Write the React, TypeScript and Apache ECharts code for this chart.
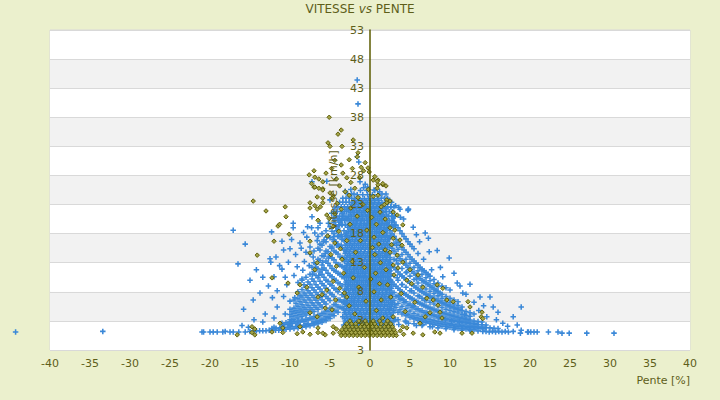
import React, { useEffect, useRef } from "react";
import * as echarts from "echarts";

// ---------- DATA (x = Pente [%], y = Vitesse [km/h]) ----------
const xTicks = { min: -40, max: 40, step: 5 };
const yTicks = { min: -2, max: 53, step: 5 };

// isolated blue points: flat list of x, y pairs
const blueSparse = [
  -44.3, 1.1, -33.4, 1.2, -21.0, 1.1, -20.8, 1.1, -20.0, 1.1, -19.6, 1.1, -19.1, 1.1, -18.4, 1.1, -18.1, 1.2,
  -17.5, 1.1, -17.1, 1.1, -16.4, 1.1, -15.6, 1.1, -15.0, 1.2, -14.6, 1.2, -14.2, 1.3, -13.8, 1.3, -13.4, 1.3,
  -13.0, 1.3, -12.6, 1.4, -12.2, 1.4, -11.8, 1.4, -11.4, 1.4, -11.0, 1.4,
  14.1, 1.2, 14.5, 1.2, 14.9, 1.1, 15.3, 1.2, 15.7, 1.1, 16.1, 1.2, 16.5, 1.1, 16.9, 1.2, 17.3, 1.1, 17.9, 1.2,
  18.8, 0.9, 18.9, 1.4, 19.7, 1.1, 20.1, 1.1, 20.5, 1.1, 20.9, 1.1, 22.3, 1.1, 23.5, 1.1, 24.0, 0.9, 24.9, 0.9,
  27.1, 0.9, 30.5, 0.9,
  -1.6, 44.4, -1.5, 40.3, -1.6, 31.2, -1.4, 30.3, -1.25, 26.9, -0.6, 26.5, -0.3, 26.0, 0.5, 25.5, -7.25, 26.9,
  -5.4, 27.0, -5.0, 23.8, -7.25, 20.9, 3.75, 22.2, 4.75, 22.0, 2.9, 20.7, 4.8, 22.2,
  -2.4, 25.6, -0.8, 25.9, 1.2, 25.2, -3.1, 25.3,
  -17.1, 18.6, -15.6, 16.2, -12.3, 18.3, -11.0, 16.7, -9.6, 19.8, -9.6, 19.0, -12.5, 13.7, -12.4, 13.1,
  -11.75, 14.0, -10.2, 13.1, -11.0, 11.9, -12.7, 9.0, -13.75, 7.8, -11.6, 8.2, -13.1, 4.2, -11.6, 5.4,
  -10.6, 10.5, -10.4, 9.2, -8.75, 16.4, -8.6, 15.5, -8.0, 14.8, -9.1, 12.3, -8.4, 11.7, -7.9, 17.4, -7.3, 19.0,
  -6.9, 18.1, -6.5, 19.0, -6.25, 19.8, -7.5, 15.7, -7.1, 14.0, -6.25, 15.2, -5.9, 13.1, -5.4, 17.4, -5.2, 19.8,
  -4.8, 21.5, -4.6, 20.7, -4.4, 22.4, -3.4, 21.5,
  -9.5, 10.8, -9.0, 9.6, -8.5, 10.2, -8.2, 13.2, -7.6, 12.5, -7.2, 11.0, -6.8, 12.2, -6.4, 10.8, -6.0, 11.8,
  -5.6, 14.6, -5.2, 13.8, -4.8, 15.5, -4.6, 17.0, -4.2, 18.5, -4.1, 16.2, -3.8, 19.5, -3.6, 17.8, -3.5, 20.5,
  -5.8, 16.6, -6.6, 16.8, -7.8, 19.2, -8.3, 18.2, -10.0, 15.4, -9.8, 17.0, -10.8, 15.2, -11.3, 12.5, -9.3, 14.4,
  -12.0, 10.6, -12.2, 7.0, -10.8, 7.2, -10.0, 6.4, -9.4, 7.0, -14.5, 3.2, -13.4, 2.8, -12.0, 3.5, -10.6, 4.2,
  -9.8, 3.0, -15.2, 1.9, -16.0, 2.2, -15.8, 5.0, -14.6, 6.6, -13.4, 10.5, -14.2, 11.8, -15.0, 10.0, -16.5, 12.8,
  4.8, 22.2, 5.4, 19.1, 6.9, 18.1, 7.3, 17.2, 7.4, 14.9, 9.9, 13.8, 7.7, 11.8, 9.1, 10.6, 10.9, 9.5, 11.25, 9.0,
  12.5, 9.3, 9.5, 8.7, 10.0, 8.3, 13.75, 7.1, 15.0, 7.1, 15.4, 5.4, 18.9, 5.4, 17.9, 3.7, 14.6, 3.7, 18.4, 2.3,
  19.8, 1.1, 12.0, 7.6, 13.0, 6.2, 14.2, 5.6, 11.8, 4.1, 13.6, 4.8, 15.8, 3.2, 16.6, 2.6, 17.2, 2.1, 16.0, 4.5,
  8.8, 12.2, 6.2, 16.6, 5.8, 17.8, 4.2, 20.5, 3.6, 22.5, 8.4, 15.1, 6.7, 13.6, 10.5, 11.2, 11.6, 7.8,
  2.2, 3.0, 2.4, 5.0, 2.2, 8.5, 2.4, 11.5, 2.2, 14.5, 2.4, 17.2, 2.2, 19.8, 3.2, 3.2, 3.6, 7.2, 3.4, 10.4,
  3.3, 13.4, 3.6, 2.4, 4.4, 3.0, 4.2, 6.6, 4.0, 9.2, 4.6, 11.4, 4.8, 2.6, 5.4, 5.6, 5.2, 8.2, 5.8, 10.2,
  6.2, 7.2, 6.8, 6.6, 7.2, 4.3, 5.8, 2.2, 6.6, 2.4, 7.8, 2.0, 8.6, 3.6, 9.4, 3.2, 10.2, 3.0, 11.2, 2.8,
  2.8, 21.5, 3.2, 22.8, 2.6, 22.6, 3.8, 20.8, 2.9, 19.2,
];

// blue bands descending to the left (x, y pairs)
const blueLeftBands = [
  -11, 1.5, -10.5, 1.55, -10, 1.6, -9.5, 1.7, -9, 1.8, -8.5, 1.9, -8, 2.0, -7.5, 2.15, -7, 2.3, -6.5, 2.5,
  -6, 2.75, -5.5, 3.05, -5, 3.4, -4.5, 3.9, -4, 4.5, -3.5, 5.2, -3, 6.1,
  -12.25, 1.7, -11.75, 1.75, -11.25, 1.8, -10.75, 1.85, -10.25, 1.9, -9.75, 2.0, -9.25, 2.05, -8.75, 2.15,
  -8.25, 2.25, -7.75, 2.4, -7.25, 2.55, -6.75, 2.75, -6.25, 3.0, -5.75, 3.3, -5.25, 3.65, -4.75, 4.1,
  -4.25, 4.7, -3.75, 5.4, -3.25, 6.3,
  -12, 1.9, -11, 2.0, -10, 2.15, -9, 2.3, -8, 2.5, -7, 2.8, -6.5, 3.0, -6, 3.3, -5.5, 3.7, -5, 4.1,
  -4.5, 4.7, -4, 5.4, -3.5, 6.3,
  -10.75, 2.35, -10.25, 2.45, -9.75, 2.55, -9.25, 2.65, -8.75, 2.8, -8.25, 2.95, -7.75, 3.15, -7.25, 3.35,
  -6.75, 3.6, -6.25, 3.9, -5.75, 4.25, -5.25, 4.65, -4.75, 5.15, -4.25, 5.8, -3.75, 6.6, -3.25, 7.6,
  -11, 2.6, -10.5, 2.7, -10, 2.8, -9.5, 2.9, -9, 3.0, -8.5, 3.15, -8, 3.3, -7.5, 3.5, -7, 3.75, -6.5, 4.0,
  -6, 4.3, -5.5, 4.7, -5, 5.2, -4.5, 5.8, -4, 6.6, -3.5, 7.5, -3, 8.5,
  -10, 3.2, -9.5, 3.3, -9, 3.5, -8.5, 3.75, -8, 4.0, -7.5, 4.3, -7, 4.6, -6.5, 5.0, -6, 5.4, -5.5, 5.9,
  -5, 6.5, -4.5, 7.2, -4, 8.0, -3.5, 9.0,
  -9.75, 3.75, -9.25, 3.9, -8.75, 4.1, -8.25, 4.35, -7.75, 4.6, -7.25, 4.95, -6.75, 5.3, -6.25, 5.75,
  -5.75, 6.25, -5.25, 6.85, -4.75, 7.55, -4.25, 8.4, -3.75, 9.4, -3.25, 10.6,
  -10, 4.1, -9.5, 4.3, -9, 4.5, -8.5, 4.7, -8, 5.0, -7.5, 5.3, -7, 5.7, -6.5, 6.1, -6, 6.6, -5.5, 7.2,
  -5, 7.8, -4.5, 8.6, -4, 9.5, -3.5, 10.6, -3, 11.8,
  -9.75, 4.6, -9.25, 4.8, -8.75, 5.05, -8.25, 5.35, -7.75, 5.7, -7.25, 6.1, -6.75, 6.55, -6.25, 7.05,
  -5.75, 7.6, -5.25, 8.3, -4.75, 9.1, -4.25, 10, -3.75, 11, -3.25, 12.2,
  -10, 5, -9.5, 5.2, -9, 5.5, -8.5, 5.8, -8, 6.2, -7.5, 6.6, -7, 7, -6.5, 7.5, -6, 8, -5.5, 8.6, -5, 9.3,
  -4.5, 10.2, -4, 11.2, -3.5, 12.4,
  -9.25, 6.0, -8.75, 6.3, -8.25, 6.6, -7.75, 7.0, -7.25, 7.4, -6.75, 7.9, -6.25, 8.5, -5.75, 9.1,
  -5.25, 9.8, -4.75, 10.6, -4.25, 11.5, -3.75, 12.6, -3.25, 13.8,
  -9.5, 6.6, -9, 6.8, -8.5, 7.1, -8, 7.4, -7.5, 7.8, -7, 8.3, -6.5, 8.8, -6, 9.4, -5.5, 10, -5, 10.8,
  -4.5, 11.7, -4, 12.7, -3.5, 13.9, -3, 15,
  -8.75, 7.4, -8.25, 7.8, -7.75, 8.2, -7.25, 8.7, -6.75, 9.2, -6.25, 9.8, -5.75, 10.5, -5.25, 11.2,
  -4.75, 12, -4.25, 13, -3.75, 14, -3.25, 15.2,
  -9, 8, -8.5, 8.4, -8, 8.8, -7.5, 9.3, -7, 9.8, -6.5, 10.4, -6, 11, -5.5, 11.7, -5, 12.5, -4.5, 13.5,
  -4, 14.5, -3.5, 15.6,
  -8.25, 9.2, -7.75, 9.7, -7.25, 10.2, -6.75, 10.8, -6.25, 11.4, -5.75, 12.1, -5.25, 12.9, -4.75, 13.8,
  -4.25, 14.8, -3.75, 15.8, -3.25, 16.8,
  -8.5, 10, -8, 10.5, -7.5, 11, -7, 11.5, -6.5, 12, -6, 12.6, -5.5, 13.3, -5, 14.1, -4.5, 15, -4, 16,
  -3.5, 17, -3, 18,
  -7.25, 12.2, -6.75, 12.8, -6.25, 13.4, -5.75, 14.1, -5.25, 14.9, -4.75, 15.7, -4.25, 16.6, -3.75, 17.5,
  -3.25, 18.5,
  -7, 13, -6.5, 13.6, -6, 14.2, -5.5, 15, -5, 15.8, -4.5, 16.7, -4, 17.6,
  -7.5, 14.5, -7, 15, -6.5, 15.5, -6, 16, -5.5, 16.6, -5, 17.3, -4.5, 18, -4, 18.8, -3.5, 19.6, -3, 20.4,
  -6.25, 16.2, -5.75, 16.9, -5.25, 17.6, -4.75, 18.4, -4.25, 19.2, -3.75, 20, -3.25, 20.9,
  -6.5, 17.5, -6, 18, -5.5, 18.5, -5, 19.2, -4.5, 19.9, -4, 20.6, -3.5, 21.4, -3, 22.2,
];

// blue bands descending to the right (x, y pairs)
const blueRightBands = [
  2.5, 7.2, 3, 6.5, 3.5, 6.0, 4, 5.5, 4.5, 5.1, 5, 4.7, 5.5, 4.3, 6, 4.0, 6.5, 3.75, 7, 3.5, 7.5, 3.3, 8, 3.1,
  8.5, 2.95, 9, 2.8, 9.5, 2.65, 10, 2.5, 10.5, 2.4, 11, 2.3, 11.5, 2.2, 12, 2.1, 12.5, 2.05, 13, 2.0,
  13.5, 1.95, 14, 1.9, 14.5, 1.85, 15, 1.8, 15.5, 1.75, 16, 1.7,
  2.75, 5.9, 3.25, 5.3, 3.75, 4.9, 4.25, 4.5, 4.75, 4.15, 5.25, 3.85, 5.75, 3.6, 6.25, 3.35, 6.75, 3.15,
  7.25, 2.95, 7.75, 2.8, 8.25, 2.65, 8.75, 2.5, 9.25, 2.4, 9.75, 2.3, 10.25, 2.2, 10.75, 2.1, 11.25, 2.0,
  11.75, 1.95, 12.25, 1.9, 12.75, 1.85, 13.25, 1.8, 13.75, 1.75, 14.25, 1.7,
  3, 4.8, 3.5, 4.5, 4, 4.2, 4.5, 3.9, 5, 3.6, 5.5, 3.35, 6, 3.1, 6.5, 2.9, 7, 2.7, 7.5, 2.55, 8, 2.4,
  8.5, 2.25, 9, 2.1, 9.5, 2.0, 10, 1.9, 10.5, 1.8, 11, 1.7, 11.5, 1.65, 12, 1.6, 12.5, 1.55, 13, 1.5,
  3.5, 3.2, 4.5, 2.8, 5.5, 2.5, 6.5, 2.2, 7.5, 2.0, 8.5, 1.8, 9.5, 1.65, 10.5, 1.5, 11.5, 1.4, 12.5, 1.3,
  13.5, 1.25,
  2.75, 7.9, 3.25, 7.2, 3.75, 6.65, 4.25, 6.15, 4.75, 5.7, 5.25, 5.35, 5.75, 5.0, 6.25, 4.7, 6.75, 4.4,
  7.25, 4.15, 7.75, 3.95, 8.25, 3.75, 8.75, 3.55, 9.25, 3.4, 9.75, 3.25, 10.25, 3.1, 10.75, 2.95,
  11.25, 2.85, 11.75, 2.75, 12.25, 2.65, 12.75, 2.55, 13.25, 2.45,
  2.5, 8.6, 3, 7.9, 3.5, 7.3, 4, 6.8, 4.5, 6.3, 5, 5.9, 5.5, 5.5, 6, 5.1, 6.5, 4.8, 7, 4.5, 7.5, 4.25,
  8, 4.0, 8.5, 3.8, 9, 3.6, 9.5, 3.4, 10, 3.25, 10.5, 3.1, 11, 2.95, 11.5, 2.8, 12, 2.7, 12.5, 2.6, 13, 2.5,
  13.5, 2.4, 14, 2.35, 14.5, 2.3,
  2.75, 9.7, 3.25, 8.95, 3.75, 8.3, 4.25, 7.75, 4.75, 7.25, 5.25, 6.8, 5.75, 6.4, 6.25, 6.0, 6.75, 5.65,
  7.25, 5.35, 7.75, 5.05, 8.25, 4.8, 8.75, 4.55, 9.25, 4.3, 9.75, 4.1, 10.25, 3.9, 10.75, 3.7, 11.25, 3.55,
  11.75, 3.4, 12.25, 3.25,
  2.5, 10.1, 3, 9.3, 3.5, 8.6, 4, 8, 4.5, 7.5, 5, 7, 5.5, 6.6, 6, 6.2, 6.5, 5.85, 7, 5.5, 7.5, 5.2, 8, 4.9,
  8.5, 4.65, 9, 4.4, 9.5, 4.2, 10, 4.0, 10.5, 3.8, 11, 3.6, 11.5, 3.45, 12, 3.3, 12.5, 3.15, 13, 3.0,
  13.5, 2.9, 14, 2.8,
  2.5, 11.6, 3, 10.8, 3.5, 10, 4, 9.3, 4.5, 8.8, 5, 8.2, 5.5, 7.8, 6, 7.3, 6.5, 6.9, 7, 6.5, 7.5, 6.2,
  8, 5.9, 8.5, 5.6, 9, 5.3, 9.5, 5.0, 10, 4.8, 10.5, 4.55, 11, 4.35, 11.5, 4.15, 12, 3.95, 12.5, 3.8,
  2.75, 12.6, 3.25, 11.8, 3.75, 11, 4.25, 10.4, 4.75, 9.8, 5.25, 9.25, 5.75, 8.75, 6.25, 8.25, 6.75, 7.8,
  7.25, 7.4, 7.75, 7.0, 8.25, 6.6, 8.75, 6.3, 9.25, 5.95, 9.75, 5.65, 10.25, 5.4, 10.75, 5.1, 11.25, 4.9,
  2.5, 13.1, 3, 12.2, 3.5, 11.4, 4, 10.7, 4.5, 10.1, 5, 9.5, 5.5, 9.0, 6, 8.5, 6.5, 8.0, 7, 7.6, 7.5, 7.2,
  8, 6.8, 8.5, 6.45, 9, 6.1, 9.5, 5.8, 10, 5.5, 10.5, 5.25, 11, 5.0, 11.5, 4.8, 12, 4.6, 12.5, 4.4, 13, 4.2,
  2.5, 14.6, 3, 13.6, 3.5, 12.8, 4, 12, 4.5, 11.3, 5, 10.7, 5.5, 10.1, 6, 9.5, 6.5, 9, 7, 8.5, 7.5, 8.1,
  8, 7.7, 8.5, 7.3, 9, 6.9, 9.5, 6.55, 10, 6.2, 10.5, 5.9, 11, 5.65, 11.5, 5.4,
  2.75, 15.5, 3.25, 14.5, 3.75, 13.7, 4.25, 12.9, 4.75, 12.2, 5.25, 11.5, 5.75, 10.9, 6.25, 10.3,
  6.75, 9.75, 7.25, 9.25, 7.75, 8.75, 8.25, 8.25, 8.75, 7.8,
  2.5, 16, 3, 15, 3.5, 14.1, 4, 13.3, 4.5, 12.6, 5, 11.9, 5.5, 11.2, 6, 10.6, 6.5, 10, 7, 9.5, 7.5, 9.0,
  8, 8.5, 8.5, 8.0, 9, 7.6, 9.5, 7.2, 10, 6.9, 10.5, 6.6, 11, 6.3,
  3, 16.3, 3.5, 15.3, 4, 14.4, 4.5, 13.6, 5, 12.9, 5.5, 12.2, 6, 11.6, 6.5, 11, 7, 10.4, 7.5, 9.9, 8, 9.4,
  8.5, 8.9,
  2.75, 18, 3.25, 17, 3.75, 16, 4.25, 15.2, 4.75, 14.4, 5.25, 13.6, 5.75, 12.9, 6.25, 12.2, 6.75, 11.6,
  7.25, 11,
  2.5, 18.5, 3, 17.5, 3.5, 16.5, 4, 15.6, 4.5, 14.8, 5, 14, 5.5, 13.3, 6, 12.6, 6.5, 11.9, 7, 11.3,
  7.5, 10.7, 8, 10.1, 8.5, 9.5, 9, 9.0,
  2.75, 20, 3.25, 19.5, 3.75, 18.5, 4.25, 17.5, 4.75, 16.6, 5.25, 15.8,
  3, 20, 3.5, 19, 4, 18, 4.5, 17.1, 5, 16.2, 5.5, 15.4, 6, 14.6,
];

// dense blue core: each row is [speed, slopes...]
const blueCoreRows = [
  [1.6, -3.0, -2.5, -2.0, -1.6, -1.1, -0.6, -0.2, 0.3, 0.7, 1.2, 1.6, 2.1, 2.6],
  [2.0, -3.2, -2.7, -2.3, -1.8, -1.3, -0.9, -0.4, 0.1, 0.5, 1.0, 1.4, 1.9, 2.4],
  [2.3, -3.3, -2.8, -2.3, -1.9, -1.4, -0.9, -0.5, 0, 0.4, 0.9, 1.3, 1.8, 2.3, 2.8],
  [2.7, -3.0, -2.5, -2.0, -1.6, -1.1, -0.7, -0.2, 0.3, 0.8, 1.2, 1.7, 2.1, 2.6],
  [3.0, -3.1, -2.6, -2.2, -1.7, -1.2, -0.8, -0.3, 0.2, 0.6, 1.1, 1.5, 2.0, 2.5, 3.0],
  [3.4, -3.2, -2.8, -2.3, -1.9, -1.4, -0.9, -0.5, 0.0, 0.5, 0.9, 1.4, 1.9, 2.4, 2.9],
  [3.7, -3.4, -2.9, -2.4, -2.0, -1.5, -1.0, -0.6, -0.1, 0.3, 0.8, 1.3, 1.7, 2.2, 2.7],
  [4.1, -3.0, -2.5, -2.0, -1.5, -1.1, -0.6, -0.1, 0.3, 0.8, 1.2, 1.7, 2.1, 2.6],
  [4.4, -3.2, -2.7, -2.2, -1.8, -1.3, -0.8, -0.4, 0.1, 0.5, 1.0, 1.4, 1.9, 2.4, 2.9],
  [4.8, -3.1, -2.6, -2.2, -1.7, -1.2, -0.8, -0.3, 0.2, 0.6, 1.1, 1.5, 2.0, 2.4, 2.9],
  [5.1, -3.3, -2.9, -2.4, -1.9, -1.5, -1.0, -0.5, -0.1, 0.4, 0.8, 1.3, 1.7, 2.2, 2.6],
  [5.5, -2.9, -2.4, -2.0, -1.5, -1.0, -0.5, -0.1, 0.4, 0.9, 1.3, 1.8, 2.2, 2.7],
  [5.8, -3.1, -2.6, -2.1, -1.7, -1.2, -0.7, -0.3, 0.2, 0.6, 1.1, 1.5, 2.0, 2.5, 3.1],
  [6.2, -3.3, -2.8, -2.3, -1.9, -1.4, -0.9, -0.5, 0.0, 0.5, 0.9, 1.4, 1.8, 2.3, 2.8],
  [6.5, -3.0, -2.5, -2.1, -1.6, -1.1, -0.7, -0.2, 0.3, 0.7, 1.2, 1.6, 2.1, 2.6],
  [6.9, -2.8, -2.3, -1.9, -1.4, -0.9, -0.5, 0.0, 0.5, 1.0, 1.4, 1.9, 2.4],
  [7.2, -3.2, -2.8, -2.3, -1.8, -1.4, -0.9, -0.4, 0.0, 0.5, 0.9, 1.4, 1.8, 2.3, 2.8],
  [7.6, -3.0, -2.6, -2.1, -1.6, -1.2, -0.7, -0.2, 0.2, 0.7, 1.1, 1.6, 2.0, 2.5],
  [7.9, -3.0, -2.5, -2.0, -1.6, -1.1, -0.6, -0.2, 0.3, 0.7, 1.2, 1.6, 2.1, 2.5],
  [8.3, -3.2, -2.7, -2.2, -1.8, -1.3, -0.8, -0.4, 0.1, 0.6, 1.0, 1.5, 1.9, 2.4],
  [8.6, -2.9, -2.4, -2.0, -1.5, -1.0, -0.6, -0.1, 0.4, 0.8, 1.3, 1.7, 2.2, 2.7],
  [9.0, -2.8, -2.4, -1.9, -1.5, -1.0, -0.5, -0.1, 0.4, 0.8, 1.3, 1.7, 2.2, 2.7],
  [9.3, -3.1, -2.7, -2.2, -1.7, -1.3, -0.8, -0.3, 0.1, 0.6, 1.0, 1.5, 1.9, 2.4],
  [9.7, -3.0, -2.5, -2.0, -1.6, -1.1, -0.6, -0.2, 0.3, 0.7, 1.2, 1.6, 2.1, 2.5],
  [10.0, -2.9, -2.4, -1.9, -1.5, -1.0, -0.5, -0.1, 0.4, 0.8, 1.3, 1.7, 2.2, 2.6],
  [10.4, -3.2, -2.7, -2.2, -1.8, -1.3, -0.8, -0.4, 0.0, 0.5, 1.0, 1.4, 1.9, 2.3],
  [10.7, -3.0, -2.6, -2.1, -1.6, -1.2, -0.7, -0.2, 0.2, 0.7, 1.1, 1.6, 2.0, 2.5],
  [11.1, -2.9, -2.4, -2.0, -1.5, -1.0, -0.6, -0.1, 0.4, 0.8, 1.3, 1.7, 2.2, 2.6],
  [11.4, -2.8, -2.3, -1.9, -1.4, -0.9, -0.5, 0.0, 0.5, 0.9, 1.4, 1.8, 2.3],
  [11.8, -3.1, -2.6, -2.1, -1.7, -1.2, -0.8, -0.3, 0.1, 0.6, 1.0, 1.5, 2.0, 2.4],
  [12.1, -3.0, -2.5, -2.0, -1.6, -1.1, -0.6, -0.2, 0.3, 0.7, 1.2, 1.6, 2.1, 2.5],
  [12.5, -2.9, -2.5, -2.0, -1.5, -1.1, -0.6, -0.2, 0.3, 0.7, 1.2, 1.6, 2.1, 2.6],
  [12.8, -2.8, -2.3, -1.8, -1.4, -0.9, -0.4, 0.0, 0.5, 0.9, 1.4, 1.8, 2.3],
  [13.2, -3.2, -2.7, -2.2, -1.8, -1.3, -0.9, -0.4, 0.1, 0.5, 1.0, 1.4, 1.9, 2.3],
  [13.5, -3.0, -2.5, -2.1, -1.6, -1.1, -0.7, -0.2, 0.3, 0.7, 1.2, 1.6, 2.1, 2.5],
  [13.9, -2.9, -2.5, -2.0, -1.6, -1.1, -0.6, -0.2, 0.3, 0.7, 1.1, 1.6, 2.0, 2.5],
  [14.2, -2.8, -2.4, -1.9, -1.4, -1.0, -0.5, 0.0, 0.4, 0.9, 1.3, 1.8, 2.2],
  [14.6, -3.1, -2.6, -2.1, -1.7, -1.2, -0.8, -0.3, 0.2, 0.6, 1.1, 1.5, 2.0, 2.4],
  [14.9, -3.0, -2.6, -2.1, -1.6, -1.2, -0.7, -0.2, 0.2, 0.7, 1.1, 1.6, 2.0, 2.4],
  [15.3, -2.9, -2.4, -2.0, -1.5, -1.1, -0.6, -0.2, 0.3, 0.7, 1.2, 1.6, 2.0],
  [15.6, -2.8, -2.3, -1.9, -1.4, -0.9, -0.5, 0.0, 0.5, 0.9, 1.4, 1.8, 2.2],
  [16.0, -4.2, -3.6, -3.1, -2.6, -2.2, -1.7, -1.2, -0.8, -0.3, 0.1, 0.6, 1.0, 1.5, 1.9, 2.4, 2.8, 3.3],
  [16.3, -2.9, -2.5, -2.0, -1.5, -1.1, -0.6, -0.1, 0.3, 0.8, 1.2, 1.7, 2.1],
  [16.7, -2.9, -2.4, -1.9, -1.5, -1.0, -0.6, -0.1, 0.4, 0.8, 1.3, 1.7, 2.2],
  [17.0, -2.7, -2.2, -1.8, -1.3, -0.8, -0.4, 0.1, 0.5, 1.0, 1.4, 1.9, 2.3],
  [17.4, -2.6, -2.2, -1.7, -1.2, -0.8, -0.3, 0.2, 0.6, 1.1, 1.5, 1.9, 2.4],
  [17.5, -4.5, -4.0, -3.5, -3.1, 2.6, 3.0],
  [17.7, -2.9, -2.4, -2.0, -1.5, -1.0, -0.6, -0.1, 0.3, 0.8, 1.2, 1.7, 2.1],
  [18.1, -2.9, -2.4, -2.0, -1.5, -1.1, -0.6, -0.1, 0.3, 0.8, 1.2, 1.7, 2.1],
  [18.4, -2.7, -2.2, -1.7, -1.3, -0.8, -0.3, 0.1, 0.6, 1.0, 1.5, 1.9],
  [18.8, -2.5, -2.0, -1.6, -1.1, -0.6, -0.2, 0.3, 0.8, 1.2, 1.7, 2.1],
  [19.1, -2.8, -2.4, -1.9, -1.4, -1.0, -0.5, 0.0, 0.4, 0.9, 1.3, 1.8, 2.2],
  [19.5, -4.3, -3.9, -3.5, -3.1, -2.7, -2.2, -1.8, -1.3, -0.8, -0.4, 0.1, 0.5, 1.0, 1.4, 1.8, 2.3, 2.7, 3.1],
  [19.8, -2.6, -2.1, -1.7, -1.2, -0.7, -0.3, 0.2, 0.6, 1.1, 1.5, 2.0],
  [20.2, -2.5, -2.0, -1.6, -1.1, -0.7, -0.2, 0.3, 0.7, 1.2, 1.6, 2.1],
  [20.3, -4.4, -4.0, -3.6, -3.2, 2.4, 2.8],
  [20.5, -2.8, -2.3, -1.8, -1.4, -0.9, -0.4, 0.0, 0.5, 0.9, 1.4, 1.8],
  [20.9, -2.7, -2.3, -1.8, -1.3, -0.9, -0.4, 0.1, 0.5, 1.0, 1.4, 1.8],
  [21.0, -4.2, -3.8, -3.4, -3.0, 2.3, 2.7, 3.1],
  [21.2, -2.5, -2.0, -1.6, -1.1, -0.6, -0.2, 0.3, 0.7, 1.2, 1.6, 2.1],
  [21.6, -2.4, -2.0, -1.5, -1.0, -0.6, -0.1, 0.4, 0.8, 1.3, 1.7],
  [21.8, -4.5, -4.1, -3.6, -3.2, -2.9, 2.0, 2.4, 2.8],
  [21.9, -2.7, -2.2, -1.7, -1.3, -0.8, -0.3, 0.1, 0.6, 1.0, 1.5],
  [22.3, -2.6, -2.1, -1.7, -1.2, -0.7, -0.3, 0.2, 0.6, 1.1, 1.5, 2.0],
  [22.6, -4.0, -3.6, -3.2, -2.8, -2.4, -1.9, -1.5, -1.0, -0.5, -0.1, 0.4, 0.8, 1.3, 1.8, 2.2, 2.6, 3.0],
  [23.0, -2.3, -1.9, -1.4, -0.9, -0.5, 0.0, 0.4, 0.9, 1.3],
  [23.3, -2.2, -1.7, -1.2, -0.8, -0.3, 0.2, 0.6, 1.1, 1.5],
  [23.4, -3.8, -3.4, -3.0, -2.6, 1.9, 2.3, 2.7],
  [23.7, -2.0, -1.5, -1.0, -0.5, 0.1, 0.6, 1.1],
  [24.0, -1.9, -1.3, -0.7, -0.2, 0.4, 0.9],
  [24.1, -3.4, -3.0, -2.6, -2.3, 1.4, 1.8, 2.2],
  [24.7, -1.6, -0.9, -0.3, 0.3, 1.0],
  [24.8, -2.8, -2.3, -2.0, 1.5, 2.0],
  [25.4, -1.2, -0.4, 0.6],
];

// dense olive cluster at very low speed: [speed, slopes...]
const oliveBottomRows = [
  [0.5, -3.6, -3.1, -2.6, -2.1, -1.6, -1.1, -0.6, -0.1, 0.4, 0.9, 1.4, 1.9, 2.4, 2.9, 3.3],
  [1.0, -3.8, -3.3, -2.8, -2.3, -1.8, -1.3, -0.8, -0.3, 0.2, 0.7, 1.2, 1.7, 2.2, 2.7, 3.2],
  [1.5, -3.5, -3.0, -2.5, -2.0, -1.5, -1.0, -0.5, 0.0, 0.5, 1.0, 1.5, 2.0, 2.5, 3.0],
  [2.0, -3.2, -2.7, -2.2, -1.7, -1.2, -0.7, -0.2, 0.3, 0.8, 1.3, 1.8, 2.3, 2.8],
  [2.5, -2.9, -2.3, -1.8, -1.0, -0.4, 0.1, 0.6, 1.4, 2.0, 2.6],
  [3.0, -2.5, -1.4, -0.6, 0.4, 1.2, 2.2],
];

// scattered olive points: flat list of x, y pairs
const oliveScatter = [
  -16.6, 0.6, -14.75, 1.0, -14.4, 0.6, -10.9, 1.0, -9.1, 0.8, -8.4, 1.1, -7.5, 0.7, -6.5, 1.0, -5.6, 0.6,
  -4.6, 0.9, -4.2, 1.6, -8.75, 2.0, -6.5, 1.8, -5.9, 0.9, -4.6, 2.0, -11.25, 2.6, -10.9, 1.8, -14.75, 2.0,
  -14.4, 1.6, -12.25, 1.1, 4.2, 0.7, 3.8, 1.3, 4.6, 1.8, 5.4, 0.9, 6.6, 0.6, 8.1, 1.1, 8.75, 0.9, 11.5, 0.9,
  12.75, 0.9, 13.9, 3.7, 14.1, 3.4, 6.9, 3.7, 6.25, 2.6, 9.0, 3.5, 2.9, 3.7, 1.6, 3.5, 4.1, 2.0,
  -5.1, 38, -3.6, 35.8, -4.0, 35.1, -5.25, 33.6, -5.0, 33, -3.5, 33, -2.1, 34.1, -2.6, 30.7, -1.5, 31.9,
  -1.6, 31.2, -7.0, 28.8, -7.6, 28.1, -6.4, 27.4, -5.9, 26.9, -0.25, 29.3, -0.1, 28.6, 0.4, 27.2, 1.0, 27.2,
  0.9, 25.8, 1.6, 26.4, 2.0, 26.2, -7.0, 26, -5.9, 25.7, -6.6, 24.3, -5.9, 24.1, -4.6, 24.5, -7.5, 22.4,
  -6.9, 22.8, -6.2, 22.6, 2.1, 23.8, 2.5, 23.6,
  -14.6, 23.6, -13.0, 21.9, -10.6, 22.6, -10.5, 20.9, -11.5, 19.3, -11.3, 19.6, -10.1, 17.9, -12.0, 16.7,
  -14.1, 14.3, -12.25, 10.4, -10.25, 9.5, -7.5, 23.3, -7.5, 16.7, -6.9, 26, -6.4, 25.8, -5.9, 25.5,
  -6.9, 27.7, -7.3, 26.6, -6.6, 22.2, -5.9, 23.3, -5.4, 21.2, -6.5, 20.3, -5.0, 25, -4.75, 24.1, -7.5, 14.7,
  -6.6, 13, -6.9, 11.8, -8.75, 9.2, -7.9, 8.8, -9.1, 7.8, -6.5, 7.1, -6.0, 7.5, -5.4, 8.3, -5.6, 5.2,
  -4.75, 4.9, -4.3, 6.6, -2.9, 7.1, -7.5, 4.4, -6.6, 3.7,
  1.0, 26.4, 1.6, 26.6, 0.6, 27.8, 0.9, 27.0, 2.1, 23.3, 1.8, 23.0, 1.25, 21.7, 2.9, 21.7, 3.4, 21.2,
  4.1, 19.5, 2.5, 19, 3.1, 18.6, 2.9, 17.2, 3.75, 16.9, 4.0, 16, 2.5, 14.8, 3.4, 14.3, 4.1, 13.1, 2.9, 12.6,
  3.5, 12.1, 5.0, 11.8, 6.0, 10.9, 4.6, 10, 6.6, 8.8, 8.4, 9.2, 9.1, 8.6, 7.1, 6.9, 7.9, 6.6, 8.5, 5.7,
  9.6, 6.6, 10.4, 6.3, 12.25, 6.3, 12.5, 5.4, 14.0, 4.5, 7.5, 4.4, 8.75, 4.5, 5.6, 6.2, 5.2, 9.4, 3.9, 7.7,
  4.4, 4.6,
  -4.2, 27.4, -3.8, 26.2, -3.4, 28.4, -2.9, 27.6, -2.4, 26.8, -3.1, 25.2, -2.6, 24.6, -1.9, 25.8, -1.3, 27.6,
  -0.8, 28.8, -0.6, 30.2, -1.1, 29.4, -2.2, 29.2, -3.6, 29.8, -4.4, 30.6, -4.8, 29.2, -5.5, 28.4, -4.1, 23.2,
  -3.6, 22.2, -4.4, 21.4, -5.1, 20.6, -4.6, 19.2, -3.9, 18.4, -5.3, 17.6, -4.4, 16.4, -3.7, 15.4, -4.9, 14.4,
  -3.5, 13.6, -4.2, 12.4, -3.3, 11.2, -4.6, 9.8, -3.8, 8.6, -3.2, 7.8, -2.4, 22.4, -1.6, 21, -0.9, 23,
  -0.3, 22, 0.4, 24.4, 0.2, 20.8, 0.8, 19.6, 0.5, 17.4, 1.1, 16.2, 0.6, 14.4, 1.3, 13, 0.7, 11.2, 1.2, 9.4,
  0.5, 8, 1.4, 6.6, 0.8, 4.8, 1.9, 15.2, 1.6, 18.2, 2.0, 11.8, 2.2, 9.2, 2.6, 7.1, -0.4, 18.6, -1.2, 16.8,
  -1.8, 14.8, -0.7, 12.2, -2.1, 10.4, -1.4, 8.8, -0.5, 6.4, -2.6, 5.6, -1.9, 4.2, 0.1, 10.2, 0.3, 15.6,
  -2.5, 19.6, -2.9, 16.8, -2.2, 13.2, -0.2, 25.6, -1.5, 24.2, 1.4, 22.6, 1.0, 24.6, 1.9, 20.5, 2.7, 16.1,
  3.0, 10.9,
];

// ---------- helpers ----------
const pairs = (flat: number[]) => {
  const out: number[][] = [];
  for (let i = 0; i + 1 < flat.length; i += 2) out.push([flat[i], flat[i + 1]]);
  return out;
};
const fromRows = (rows: number[][]) => {
  const out: number[][] = [];
  rows.forEach((r) => r.slice(1).forEach((x) => out.push([x, r[0]])));
  return out;
};

const OLIVE_TEXT = "#5e5e1a";
const OLIVE_LINE = "#5b5b00";
const BLUE = "#3a88d8";
const PLUS = "path://M1.8,0H3.2V1.8H5V3.2H3.2V5H1.8V3.2H0V1.8H1.8Z";

export default function App() {
  const ref = useRef<HTMLDivElement>(null);
  useEffect(() => {
    if (!ref.current) return;
    const chart = echarts.init(ref.current, undefined, { renderer: "svg" });
    const blueData = [
      ...fromRows(blueCoreRows),
      ...pairs(blueLeftBands),
      ...pairs(blueRightBands),
      ...pairs(blueSparse),
    ];
    const oliveData = [...fromRows(oliveBottomRows), ...pairs(oliveScatter)];
    const yCommon = {
      type: "value",
      min: yTicks.min,
      max: yTicks.max,
      interval: yTicks.step,
    };
    chart.setOption({
      animation: false,
      backgroundColor: "#ebf0cd",
      textStyle: { fontFamily: "DejaVu Sans" },
      title: {
        text: "{a|VITESSE }{b|vs}{a| PENTE}",
        left: "center",
        top: 3,
        padding: 0,
        textStyle: {
          fontWeight: "normal",
          rich: {
            a: { fontSize: 12, color: OLIVE_TEXT, fontFamily: "DejaVu Sans", fontWeight: "normal" },
            b: {
              fontSize: 12,
              color: OLIVE_TEXT,
              fontFamily: "DejaVu Sans",
              fontStyle: "italic",
              fontWeight: "normal",
            },
          },
        },
      },
      grid: {
        left: 50,
        right: 30,
        top: 30,
        bottom: 50,
        show: true,
        backgroundColor: "#ffffff",
        borderColor: "#d9d9d9",
        borderWidth: 1,
      },
      xAxis: {
        type: "value",
        min: xTicks.min,
        max: xTicks.max,
        interval: xTicks.step,
        axisLine: { show: false, onZero: false },
        axisTick: { show: false },
        splitLine: { show: false },
        axisLabel: { color: OLIVE_TEXT, fontSize: 11, margin: 8, fontFamily: "DejaVu Sans" },
        name: "Pente [%]",
        nameLocation: "end",
        nameGap: 0,
        nameTextStyle: {
          color: OLIVE_TEXT,
          fontSize: 11,
          fontFamily: "DejaVu Sans",
          align: "right",
          verticalAlign: "top",
          padding: [25, 0, 0, 0],
        },
      },
      yAxis: [
        {
          ...yCommon,
          axisLine: { show: false, onZero: false },
          axisTick: { show: false },
          axisLabel: { show: false },
          splitLine: { show: true, lineStyle: { color: "#d9d9d9", width: 1 } },
          splitArea: { show: true, areaStyle: { color: ["#ffffff", "#f2f2f2"] } },
          z: 0,
        },
        {
          ...yCommon,
          position: "left",
          offset: -320,
          z: 10,
          axisLine: { show: true, onZero: false, lineStyle: { color: OLIVE_LINE, width: 1.5 } },
          axisTick: { show: false },
          splitLine: { show: false },
          splitArea: { show: false },
          axisLabel: {
            color: OLIVE_TEXT,
            fontSize: 11,
            margin: 6,
            fontFamily: "DejaVu Sans",
            formatter: (v: number) => String(v < 3 ? 3 : v),
          },
          name: "Vitesse [km/h]",
          nameLocation: "middle",
          nameGap: 22,
          nameRotate: 90,
          nameTextStyle: { color: OLIVE_TEXT, fontSize: 11, fontFamily: "DejaVu Sans" },
        },
      ],
      series: [
        {
          type: "scatter",
          yAxisIndex: 0,
          clip: false,
          symbol: PLUS,
          symbolSize: 5.5,
          itemStyle: { color: BLUE, opacity: 1 },
          data: blueData,
          z: 2,
        },
        {
          type: "scatter",
          yAxisIndex: 0,
          clip: false,
          symbol: "diamond",
          symbolSize: 4.5,
          itemStyle: { color: "#a3a347", borderColor: "#555500", borderWidth: 0.9, opacity: 1 },
          data: oliveData,
          z: 3,
        },
      ],
    });
    return () => chart.dispose();
  }, []);
  return (
    <div
      ref={ref}
      style={{ position: "fixed", left: 0, top: 0, width: 720, height: 400 }}
    />
  );
}
